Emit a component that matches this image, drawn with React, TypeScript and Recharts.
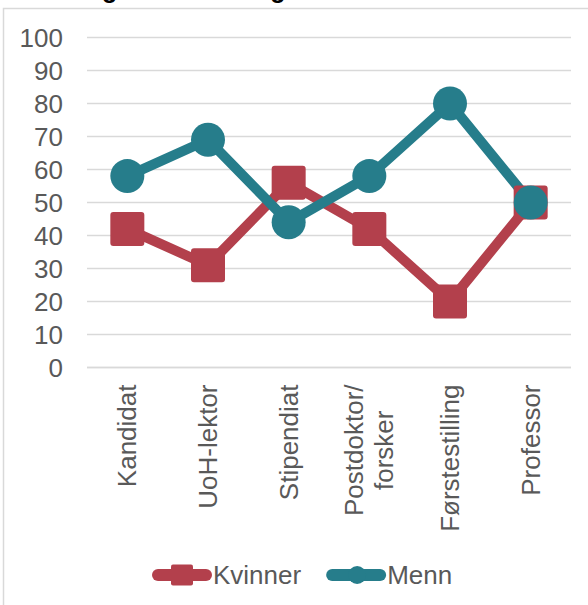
import { LineChart, Line, XAxis, YAxis, CartesianGrid } from 'recharts'

// share of women / men per position group (%)
const categories = ['Kandidat', 'UoH-lektor', 'Stipendiat', 'Postdoktor/\nforsker', 'Førstestilling', 'Professor']
const kvinner = [42, 31, 56, 42, 20, 50]
const menn = [58, 69, 44, 58, 80, 50]
const yTicks = [0, 10, 20, 30, 40, 50, 60, 70, 80, 90, 100]

const RED = '#B3404C'
const TEAL = '#267D8B'
const TEXT = '#595959'
const GRID = '#D9D9D9'
const FONT = '"Liberation Sans", Arial, sans-serif'

const PLOT_W = 484
const HALF_BAND = PLOT_W / categories.length / 2

const chartData = categories.map((c, i) => ({ category: c, Kvinner: kvinner[i], Menn: menn[i] }))

const series = [
  { key: 'Kvinner', color: RED, shape: 'square' },
  { key: 'Menn', color: TEAL, shape: 'circle' },
]

let ctx: CanvasRenderingContext2D | null = null
function textWidth(s: string, size = 26) {
  if (!ctx) ctx = document.createElement('canvas').getContext('2d')
  if (!ctx) return s.length * size * 0.5
  ctx.font = `${size}px "Liberation Sans"`
  return ctx.measureText(s).width
}

// rotated category labels, multi-line labels centred inside their block
function CategoryTick({ x, y, payload }: any) {
  const lines = String(payload.value).split('\n')
  const longest = Math.max(...lines.map(l => textWidth(l)))
  return (
    <g transform={`translate(${x},${y}) rotate(-90)`}>
      {lines.map((line, i) => (
        <text
          key={i}
          x={-longest / 2}
          y={9 + (i - (lines.length - 1) / 2) * 30}
          textAnchor="middle"
          fill={TEXT}
          fontSize={26}
          fontFamily={FONT}
        >
          {line}
        </text>
      ))}
    </g>
  )
}

const SquareDot = (props: any) => {
  const { cx, cy, index } = props
  return <rect key={`sq-${index}`} x={cx - 17} y={cy - 17} width={34} height={34} rx={3} fill={RED} />
}

const RoundDot = (props: any) => {
  const { cx, cy, index } = props
  return <circle key={`ci-${index}`} cx={cx} cy={cy} r={17} fill={TEAL} />
}

function LegendRow() {
  let x = 152
  return (
    <g>
      {series.map(s => {
        const x0 = x
        const w = textWidth(s.key)
        x = x0 + 62 + w + 24
        return (
          <g key={s.key}>
            <line x1={x0 + 6} x2={x0 + 54} y1={575} y2={575} stroke={s.color} strokeWidth={12} strokeLinecap="round" />
            {s.shape === 'square' ? (
              <rect x={x0 + 19} y={564.5} width={22} height={21} rx={2} fill={s.color} />
            ) : (
              <circle cx={x0 + 31} cy={575} r={9} fill={s.color} />
            )}
            <text x={x0 + 61} y={584} fill={TEXT} fontSize={26} fontFamily={FONT}>
              {s.key}
            </text>
          </g>
        )
      })}
    </g>
  )
}

export default function App() {
  return (
    <div
      style={{
        position: 'absolute',
        left: 0,
        top: 0,
        width: 588,
        height: 605,
        overflow: 'hidden',
        background: '#fff',
        fontFamily: FONT,
      }}
    >
      <svg width={588} height={605} style={{ position: 'absolute', left: 0, top: 0 }}>
        <text x={3.5} y={-2} fontSize={25} fontWeight="bold" fill="#000" fontFamily={FONT}>
          Fordeling av kvinner og menn
        </text>
        <path d="M3.5,605 V8.5 H588" fill="none" stroke={GRID} strokeWidth={1.5} />
        <LegendRow />
      </svg>
      <div style={{ position: 'absolute', left: 0, top: 0 }}>
        <LineChart width={588} height={605} data={chartData} margin={{ top: 37.5, right: 17, bottom: 0, left: 0 }}>
          <CartesianGrid vertical={false} stroke={GRID} strokeWidth={1.3} />
          <XAxis
            dataKey="category"
            height={237.5}
            interval={0}
            padding={{ left: HALF_BAND, right: HALF_BAND }}
            axisLine={{ stroke: GRID, strokeWidth: 1.3 }}
            tickLine={false}
            tickSize={0}
            tickMargin={17}
            tick={<CategoryTick />}
          />
          <YAxis
            width={87}
            domain={[0, 100]}
            ticks={yTicks}
            interval={0}
            axisLine={false}
            tickLine={false}
            tickSize={0}
            tickMargin={24}
            tick={{ fill: TEXT, fontSize: 26, fontFamily: FONT }}
          />
          <Line
            dataKey="Kvinner"
            stroke={RED}
            strokeWidth={10}
            strokeLinejoin="round"
            dot={SquareDot}
            activeDot={false}
            isAnimationActive={false}
          />
          <Line
            dataKey="Menn"
            stroke={TEAL}
            strokeWidth={10}
            strokeLinejoin="round"
            dot={RoundDot}
            activeDot={false}
            isAnimationActive={false}
          />
        </LineChart>
      </div>
    </div>
  )
}
